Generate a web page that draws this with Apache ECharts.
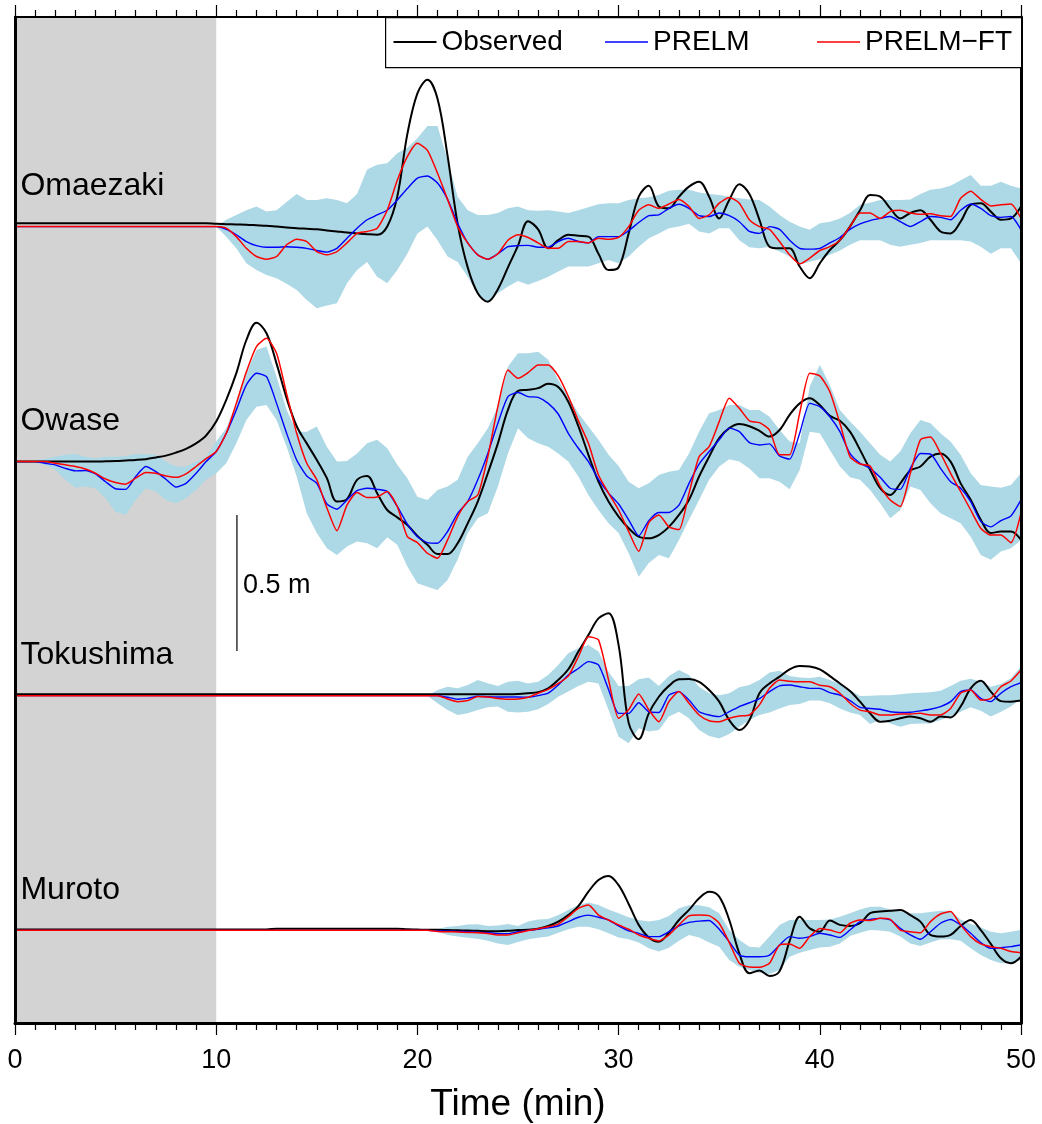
<!DOCTYPE html>
<html>
<head>
<meta charset="utf-8">
<script src="https://cdn.jsdelivr.net/npm/echarts@6/dist/echarts.min.js"></script>
<style>
html,body{margin:0;padding:0;background:#fff;}
#chart{width:1042px;height:1124px;}
</style>
</head>
<body>
<div id="chart"></div>
<script>
// ---------------- DATA (sea-level change in metres, sampled every 0.5 min) ----------------
const STATIONS = ['Omaezaki', 'Owase', 'Tokushima', 'Muroto'];
const TIME = [];
for (let i = 0; i <= 100; i++) TIME.push(i / 2);   // sampling grid 0..50 min
const X_TICKS = [0, 10, 20, 30, 40, 50];
const SCALE_BAR_M = 0.5;

// Omaezaki
const OMAEZAKI_OBS = [
0.012,0.012,0.012,0.012,0.012,0.012,0.012,0.012,0.012,0.012,
0.012,0.012,0.012,0.012,0.012,0.012,0.012,0.012,0.012,0.012,
0.010,0.009,0.008,0.007,0.005,0.003,0.000,-0.003,-0.006,-0.008,
-0.010,-0.014,-0.018,-0.022,-0.025,-0.028,-0.030,0.000,0.110,0.340,
0.490,0.540,0.470,0.260,0.010,-0.150,-0.245,-0.276,-0.230,-0.150,
-0.070,0.020,-0.010,-0.080,-0.050,-0.030,-0.034,-0.037,-0.100,-0.160,
-0.150,-0.025,0.110,0.150,0.074,0.067,0.110,0.147,0.165,0.110,
0.030,0.098,0.156,0.120,0.025,-0.074,-0.080,-0.080,-0.147,-0.190,
-0.135,-0.086,-0.050,0.000,0.060,0.116,0.110,0.067,0.030,0.050,
0.060,0.025,-0.018,-0.025,0.018,0.080,0.086,0.055,0.025,0.030,
0.074];
const OMAEZAKI_PRELM = [
0,0,0,0,0,0,0,0,0,0,
0,0,0,0,0,0,0,0,0,0,
0,-0.010,-0.030,-0.055,-0.070,-0.076,-0.076,-0.074,-0.076,-0.080,
-0.088,-0.094,-0.080,-0.043,-0.006,0.025,0.043,0.060,0.098,0.140,
0.178,0.186,0.160,0.100,0.012,-0.060,-0.104,-0.120,-0.100,-0.074,
-0.070,-0.069,-0.076,-0.076,-0.055,-0.043,-0.055,-0.060,-0.037,-0.037,
-0.037,-0.015,0.015,0.040,0.043,0.067,0.082,0.067,0.040,0.037,
0.050,0.040,0.018,-0.018,-0.025,0.000,-0.010,-0.050,-0.080,-0.083,
-0.080,-0.060,-0.040,-0.010,0.010,0.022,0.030,0.037,0.018,0.000,
0.018,0.037,0.034,0.025,0.060,0.083,0.067,0.040,0.034,0.037,
-0.012];
const OMAEZAKI_FT = [
0,0,0,0,0,0,0,0,0,0,
0,0,0,0,0,0,0,0,0,0,
0,-0.006,-0.037,-0.080,-0.110,-0.120,-0.110,-0.067,-0.047,-0.055,
-0.092,-0.104,-0.092,-0.060,-0.025,-0.018,-0.006,0.060,0.170,0.257,
0.306,0.280,0.196,0.100,0.000,-0.060,-0.104,-0.120,-0.100,-0.050,
-0.030,-0.040,-0.060,-0.080,-0.080,-0.055,-0.055,-0.060,-0.043,-0.047,
-0.040,0.000,0.060,0.080,0.067,0.083,0.100,0.074,0.030,0.043,
0.086,0.107,0.086,0.025,0.000,-0.010,-0.055,-0.104,-0.137,-0.116,
-0.088,-0.074,-0.050,0.000,0.050,0.050,0.030,0.055,0.060,0.050,
0.045,0.047,0.040,0.037,0.104,0.130,0.100,0.076,0.080,0.083,
0.030];
const OMAEZAKI_LO = [
0,0,0,0,0,0,0,0,0,0,
0,0,0,0,0,0,0,0,0,0,
0,-0.037,-0.080,-0.135,-0.160,-0.178,-0.190,-0.210,-0.233,-0.270,
-0.300,-0.290,-0.282,-0.208,-0.160,-0.130,-0.184,-0.208,-0.160,-0.100,
-0.025,0.000,-0.050,-0.110,-0.130,-0.184,-0.250,-0.276,-0.245,-0.220,
-0.200,-0.214,-0.200,-0.184,-0.165,-0.147,-0.147,-0.147,-0.135,-0.123,
-0.135,-0.110,-0.074,-0.043,-0.025,-0.006,0.000,0.010,-0.018,-0.025,
-0.006,-0.006,-0.050,-0.076,-0.080,-0.074,-0.092,-0.110,-0.140,-0.129,
-0.120,-0.104,-0.088,-0.067,-0.050,-0.050,-0.050,-0.067,-0.074,-0.067,
-0.060,-0.050,-0.050,-0.050,-0.050,-0.055,-0.074,-0.100,-0.080,-0.080,
-0.135];
const OMAEZAKI_HI = [
0,0,0,0,0,0,0,0,0,0,
0,0,0,0,0,0,0,0,0,0,
0,0.025,0.043,0.060,0.074,0.055,0.060,0.090,0.120,0.098,
0.098,0.104,0.098,0.086,0.120,0.210,0.227,0.233,0.270,0.290,
0.325,0.370,0.370,0.245,0.110,0.060,0.043,0.043,0.050,0.067,
0.074,0.060,0.058,0.060,0.055,0.050,0.060,0.071,0.082,0.086,
0.086,0.098,0.104,0.108,0.116,0.132,0.135,0.135,0.125,0.120,
0.116,0.110,0.104,0.100,0.098,0.074,0.043,0.018,0.000,-0.012,
0.012,0.018,0.030,0.050,0.080,0.088,0.098,0.098,0.098,0.100,
0.120,0.135,0.140,0.150,0.170,0.190,0.150,0.150,0.165,0.150,
0.140];

// Owase
const OWASE_OBS = [
0,0,0,0,0,0,0,0,0,0.001,
0.002,0.004,0.006,0.009,0.015,0.022,0.033,0.047,0.067,0.096,
0.147,0.227,0.325,0.447,0.510,0.472,0.360,0.233,0.130,0.067,
0.006,-0.061,-0.147,-0.138,-0.067,-0.053,-0.116,-0.178,-0.205,-0.233,
-0.273,-0.306,-0.340,-0.340,-0.300,-0.227,-0.147,-0.043,0.067,0.190,
0.260,0.264,0.270,0.286,0.274,0.220,0.130,0.025,-0.074,-0.147,
-0.202,-0.245,-0.276,-0.282,-0.270,-0.240,-0.196,-0.140,-0.055,0.018,
0.086,0.123,0.138,0.130,0.113,0.092,0.116,0.172,0.214,0.233,
0.208,0.168,0.150,0.110,0.043,-0.030,-0.098,-0.123,-0.080,-0.033,
-0.018,0.018,0.030,0.000,-0.080,-0.140,-0.214,-0.263,-0.257,-0.257,
-0.288];
const OWASE_PRELM = [
0,0,0,-0.006,-0.012,-0.025,-0.034,-0.033,-0.045,-0.074,
-0.100,-0.102,-0.055,-0.018,-0.037,-0.065,-0.094,-0.080,-0.043,0.000,
0.037,0.104,0.190,0.282,0.325,0.312,0.214,0.104,0.006,-0.053,
-0.080,-0.156,-0.175,-0.141,-0.107,-0.098,-0.102,-0.110,-0.165,-0.230,
-0.276,-0.298,-0.300,-0.257,-0.190,-0.147,-0.067,0.030,0.141,0.239,
0.254,0.239,0.236,0.214,0.175,0.104,0.049,0.000,-0.065,-0.116,
-0.156,-0.214,-0.273,-0.217,-0.187,-0.187,-0.160,-0.080,-0.009,0.037,
0.080,0.123,0.110,0.070,0.061,0.065,0.021,0.009,0.104,0.214,
0.202,0.165,0.110,0.030,-0.006,-0.025,-0.058,-0.098,-0.102,-0.025,
0.030,0.028,-0.025,-0.074,-0.098,-0.147,-0.220,-0.240,-0.217,-0.200,
-0.141];
const OWASE_FT = [
0,0,0,0,-0.006,-0.012,-0.018,-0.027,-0.043,-0.064,
-0.077,-0.083,-0.061,-0.040,-0.043,-0.053,-0.058,-0.045,-0.018,0.011,
0.037,0.104,0.214,0.330,0.423,0.453,0.398,0.250,0.104,-0.006,
-0.067,-0.170,-0.254,-0.160,-0.114,-0.132,-0.130,-0.110,-0.165,-0.276,
-0.298,-0.337,-0.355,-0.288,-0.202,-0.147,-0.123,0.018,0.202,0.337,
0.306,0.327,0.355,0.355,0.315,0.240,0.150,0.067,-0.049,-0.116,
-0.178,-0.257,-0.330,-0.224,-0.196,-0.240,-0.250,-0.116,0.018,0.055,
0.147,0.233,0.196,0.150,0.143,0.116,0.025,0.025,0.178,0.325,
0.315,0.257,0.141,0.018,-0.009,-0.016,-0.090,-0.141,-0.165,-0.043,
0.080,0.090,0.030,-0.043,-0.110,-0.178,-0.245,-0.270,-0.270,-0.298,
-0.190];
const OWASE_LO = [
0,0,-0.006,-0.012,-0.030,-0.067,-0.096,-0.092,-0.098,-0.135,
-0.184,-0.196,-0.141,-0.098,-0.110,-0.141,-0.153,-0.135,-0.104,-0.067,
-0.043,-0.006,0.067,0.153,0.202,0.208,0.153,0.055,-0.055,-0.190,
-0.263,-0.319,-0.343,-0.312,-0.294,-0.300,-0.319,-0.278,-0.306,-0.386,
-0.447,-0.460,-0.472,-0.435,-0.360,-0.263,-0.208,-0.190,-0.092,0.030,
0.123,0.086,0.067,0.055,0.030,0.000,-0.055,-0.123,-0.178,-0.227,
-0.263,-0.337,-0.423,-0.373,-0.343,-0.355,-0.288,-0.214,-0.141,-0.067,
-0.018,0.009,0.000,-0.025,-0.061,-0.061,-0.074,-0.102,-0.031,0.110,
0.104,0.043,-0.018,-0.058,-0.067,-0.104,-0.153,-0.208,-0.178,-0.092,
-0.104,-0.153,-0.190,-0.208,-0.227,-0.276,-0.343,-0.361,-0.331,-0.319,
-0.288];
const OWASE_HI = [
0,0,0.006,0.010,0.018,0.025,0.028,0.018,0.012,0.018,
0.018,0.021,0.028,0.028,0.025,0.000,-0.018,-0.018,0.000,0.018,
0.074,0.123,0.214,0.325,0.410,0.423,0.312,0.190,0.110,0.110,
0.129,0.055,0.000,0.002,0.030,0.067,0.080,0.049,-0.012,-0.061,
-0.129,-0.141,-0.104,-0.092,-0.067,0.018,0.067,0.123,0.202,0.350,
0.398,0.398,0.404,0.374,0.300,0.240,0.178,0.129,0.080,0.025,
-0.016,-0.074,-0.098,-0.080,-0.049,-0.037,-0.031,0.030,0.110,0.178,
0.190,0.208,0.208,0.190,0.190,0.165,0.116,0.074,0.067,0.276,
0.355,0.282,0.190,0.147,0.110,0.067,0.025,0.000,0.037,0.104,
0.153,0.141,0.104,0.074,0.025,-0.043,-0.086,-0.092,-0.096,-0.086,
-0.043];

// Tokushima
const TOKUSHIMA_OBS = [
0.005,0.005,0.005,0.005,0.005,0.005,0.005,0.005,0.005,0.005,
0.005,0.005,0.005,0.005,0.005,0.005,0.005,0.005,0.005,0.005,
0.005,0.005,0.005,0.005,0.005,0.005,0.005,0.005,0.005,0.005,
0.005,0.005,0.005,0.005,0.005,0.005,0.005,0.005,0.005,0.005,
0.005,0.005,0.005,0.005,0.005,0.005,0.005,0.005,0.005,0.005,
0.006,0.009,0.013,0.027,0.058,0.097,0.162,0.223,0.284,0.303,
0.186,-0.100,-0.160,-0.065,-0.004,0.036,0.060,0.061,0.051,0.021,
-0.022,-0.090,-0.126,-0.090,0.009,0.045,0.070,0.097,0.109,0.107,
0.097,0.072,0.045,0.017,-0.022,-0.065,-0.096,-0.092,-0.083,-0.077,
-0.083,-0.096,-0.077,-0.080,-0.040,0.027,0.055,0.015,-0.020,-0.022,
-0.018];
const TOKUSHIMA_PRELM = [
0,0,0,0,0,0,0,0,0,0,
0,0,0,0,0,0,0,0,0,0,
0,0,0,0,0,0,0,0,0,0,
0,0,0,0,0,0,0,0,0,0,
0,0,0,-0.006,-0.013,-0.010,-0.002,-0.004,-0.005,-0.005,
-0.005,-0.006,0.000,0.009,0.039,0.076,0.100,0.125,0.113,0.023,
-0.065,-0.065,-0.026,-0.059,-0.062,0.002,0.015,-0.016,-0.059,-0.071,
-0.077,-0.059,-0.040,-0.026,-0.011,0.015,0.036,0.039,0.033,0.027,
0.027,0.011,0.002,-0.018,-0.043,-0.047,-0.050,-0.059,-0.062,-0.061,
-0.056,-0.050,-0.040,-0.022,0.015,0.021,-0.010,-0.022,0.009,0.033,
0.048];
const TOKUSHIMA_FT = [
0,0,0,0,0,0,0,0,0,0,
0,0,0,0,0,0,0,0,0,0,
0,0,0,0,0,0,0,0,0,0,
0,0,0,0,0,0,0,0,0,0,
0,0,0,-0.012,-0.022,-0.018,-0.003,-0.005,-0.010,-0.013,
-0.012,-0.006,0.009,0.023,0.045,0.072,0.143,0.217,0.205,0.058,
-0.083,-0.052,0.006,-0.052,-0.096,-0.022,0.015,-0.028,-0.071,-0.092,
-0.096,-0.083,-0.075,-0.071,-0.034,0.027,0.058,0.053,0.051,0.051,
0.038,0.033,0.009,-0.028,-0.053,-0.059,-0.071,-0.071,-0.067,-0.067,
-0.065,-0.071,-0.071,-0.047,0.009,0.021,-0.016,-0.010,0.033,0.054,
0.094];
const TOKUSHIMA_LO = [
0,0,0,0,0,0,0,0,0,0,
0,0,0,0,0,0,0,0,0,0,
0,0,0,0,0,0,0,0,0,0,
0,0,0,0,0,0,0,0,0,0,
0,0,-0.028,-0.053,-0.071,-0.065,-0.053,-0.043,-0.040,-0.059,
-0.062,-0.059,-0.050,-0.031,-0.004,0.015,0.036,0.051,0.045,-0.053,
-0.151,-0.175,-0.120,-0.132,-0.126,-0.077,-0.059,-0.083,-0.126,-0.148,
-0.157,-0.141,-0.114,-0.089,-0.071,-0.062,-0.047,-0.034,-0.031,-0.018,
-0.018,-0.028,-0.047,-0.062,-0.071,-0.104,-0.089,-0.102,-0.114,-0.104,
-0.102,-0.102,-0.089,-0.077,-0.059,-0.043,-0.055,-0.077,-0.059,-0.040,
-0.010];
const TOKUSHIMA_HI = [
0,0,0,0,0,0,0,0,0,0,
0,0,0,0,0,0,0,0,0,0,
0,0,0,0,0,0,0,0,0,0,
0,0,0,0,0,0,0,0,0,0,
0,0,0.021,0.033,0.027,0.039,0.058,0.046,0.036,0.051,
0.055,0.045,0.051,0.076,0.113,0.156,0.174,0.186,0.162,0.088,
0.036,0.036,0.060,0.067,0.036,0.072,0.094,0.076,0.033,0.009,
0.002,0.009,0.031,0.039,0.058,0.085,0.092,0.072,0.067,0.065,
0.070,0.058,0.043,0.021,-0.001,0.000,0.002,0.002,0.005,0.009,
0.011,0.013,0.018,0.036,0.055,0.062,0.051,0.033,0.043,0.064,
0.107];

// Muroto
const MUROTO_OBS = [
0.003,0.003,0.003,0.003,0.003,0.003,0.003,0.003,0.003,0.003,
0.003,0.003,0.003,0.003,0.003,0.003,0.003,0.003,0.003,0.003,
0.003,0.003,0.003,0.003,0.003,0.003,0.006,0.006,0.006,0.006,
0.006,0.006,0.006,0.006,0.006,0.006,0.006,0.006,0.006,0.004,
0.003,0.002,0.002,0.001,0.000,-0.001,-0.002,-0.003,-0.003,-0.002,
0.001,0.002,0.006,0.016,0.032,0.056,0.089,0.142,0.185,0.200,
0.166,0.097,0.020,-0.026,-0.042,-0.009,0.038,0.075,0.118,0.142,
0.124,0.038,-0.085,-0.158,-0.148,-0.168,-0.150,-0.040,0.050,0.007,
-0.005,0.036,0.020,0.016,0.026,0.063,0.069,0.072,0.075,0.056,
0.032,-0.017,-0.023,-0.017,0.016,0.038,0.001,-0.050,-0.103,-0.121,
-0.097];
const MUROTO_PRELM = [
0,0,0,0,0,0,0,0,0,0,
0,0,0,0,0,0,0,0,0,0,
0,0,0,0,0,0,0,0,0,0,
0,0,0,0,0,0,0,0,0,0,
0,0,-0.002,-0.003,-0.004,-0.005,-0.007,-0.009,-0.012,-0.012,
-0.005,0.000,0.004,0.009,0.016,0.032,0.048,0.056,0.048,0.038,
0.016,-0.002,-0.011,-0.023,-0.023,-0.005,0.016,0.029,0.034,0.036,
0.004,-0.042,-0.091,-0.097,-0.097,-0.091,-0.054,-0.023,-0.029,-0.023,
-0.011,-0.017,-0.026,0.001,0.032,0.040,0.044,0.038,0.007,-0.017,
-0.033,-0.005,0.026,0.040,0.020,-0.011,-0.045,-0.066,-0.064,-0.060,
-0.054];
const MUROTO_FT = [
0,0,0,0,0,0,0,0,0,0,
0,0,0,0,0,0,0,0,0,0,
0,0,0,0,0,0,0,0,0,0,
0,0,0,0,0,0,0,0,0,0,
0,0,-0.004,-0.005,-0.006,-0.008,-0.009,-0.012,-0.017,-0.017,
-0.009,-0.001,0.006,0.013,0.023,0.050,0.081,0.093,0.056,0.038,
0.020,0.004,-0.017,-0.029,-0.039,-0.017,0.020,0.053,0.056,0.054,
0.026,-0.045,-0.121,-0.135,-0.136,-0.121,-0.054,-0.050,-0.066,-0.023,
0.007,0.001,-0.009,0.026,0.038,0.036,0.044,0.040,0.001,-0.005,
-0.009,0.032,0.060,0.069,0.020,-0.023,-0.050,-0.060,-0.066,-0.078,
-0.082];
const MUROTO_LO = [
0,0,0,0,0,0,0,0,0,0,
0,0,0,0,0,0,0,0,0,0,
0,0,0,0,0,0,0,0,0,0,
0,0,0,0,0,0,0,0,0,0,
0,0,-0.005,-0.017,-0.023,-0.027,-0.031,-0.038,-0.048,-0.054,
-0.043,-0.033,-0.027,-0.023,-0.009,0.004,0.013,0.013,0.004,-0.011,
-0.026,-0.033,-0.045,-0.066,-0.078,-0.064,-0.038,-0.017,-0.026,-0.045,
-0.060,-0.109,-0.134,-0.146,-0.156,-0.161,-0.146,-0.097,-0.082,-0.072,
-0.063,-0.060,-0.048,-0.021,-0.009,0.001,-0.001,-0.005,-0.023,-0.048,
-0.058,-0.045,-0.033,-0.033,-0.038,-0.066,-0.091,-0.109,-0.121,-0.121,
-0.109];
const MUROTO_HI = [
0,0,0,0,0,0,0,0,0,0,
0,0,0,0,0,0,0,0,0,0,
0,0,0,0,0,0,0,0,0,0,
0,0,0,0,0,0,0,0,0,0,
0,0,0.005,0.013,0.016,0.021,0.022,0.016,0.018,0.023,
0.016,0.032,0.040,0.042,0.056,0.075,0.093,0.102,0.093,0.077,
0.063,0.048,0.038,0.032,0.038,0.053,0.081,0.092,0.092,0.085,
0.063,0.001,-0.036,-0.060,-0.063,-0.023,0.020,0.038,0.040,0.038,
0.038,0.040,0.050,0.063,0.077,0.087,0.087,0.077,0.069,0.063,
0.063,0.067,0.072,0.072,0.040,0.023,0.011,-0.005,-0.011,-0.005,
0.001];

// ---------------- LAYOUT (record-section placement, in metres on the plot) ----------------
const Y_MAX = 3.6985;                       // plot height in metres
const BASELINES = [2.928, 2.064, 1.2034, 0.3407];
const LABEL_RISE = 0.149;
const LABEL_X = 0.27;
const SCALE_BAR_X = 11.03;
const SCALE_BAR_Y0 = 1.368;

const RECORDS = [
  {obs: OMAEZAKI_OBS, prelm: OMAEZAKI_PRELM, ft: OMAEZAKI_FT, lo: OMAEZAKI_LO, hi: OMAEZAKI_HI},
  {obs: OWASE_OBS, prelm: OWASE_PRELM, ft: OWASE_FT, lo: OWASE_LO, hi: OWASE_HI},
  {obs: TOKUSHIMA_OBS, prelm: TOKUSHIMA_PRELM, ft: TOKUSHIMA_FT, lo: TOKUSHIMA_LO, hi: TOKUSHIMA_HI},
  {obs: MUROTO_OBS, prelm: MUROTO_PRELM, ft: MUROTO_FT, lo: MUROTO_LO, hi: MUROTO_HI}
];

const problems = [];
RECORDS.forEach((r, k) => Object.keys(r).forEach(key => {
  if (r[key].length !== TIME.length) problems.push(STATIONS[k] + ' ' + key + ' len ' + r[key].length);
}));

const FONT = "'Liberation Sans', Arial, Helvetica, sans-serif";
const NAME_OBS = 'Observed', NAME_PRELM = 'PRELM', NAME_FT = 'PRELM\u2212FT';

const series = [];

// grey pre-window shading (0-10 min)
series.push({
  type: 'line', name: 'shade', data: [], silent: true, z: 1,
  markArea: {silent: true, z: 1, itemStyle: {color: '#d3d3d3', borderWidth: 0},
             data: [[{xAxis: 0}, {xAxis: 10}]]}
});

RECORDS.forEach((r, k) => {
  const b = BASELINES[k];
  series.push({
    type: 'custom', name: STATIONS[k] + ' band', silent: true, z: 2,
    coordinateSystem: 'cartesian2d',
    data: TIME.map((t, i) => [t, b + r.lo[i], b + r.hi[i]]),
    encode: {x: 0, y: [1, 2]},
    renderItem: function (params, api) {
      if (params.dataIndex !== 0) return null;
      const pts = [];
      for (let i = 0; i < TIME.length; i++) pts.push(api.coord([TIME[i], b + r.hi[i]]));
      for (let i = TIME.length - 1; i >= 0; i--) pts.push(api.coord([TIME[i], b + r.lo[i]]));
      return {type: 'polygon', shape: {points: pts}, style: {fill: '#add8e6', stroke: null}};
    }
  });
  series.push({
    type: 'line', name: NAME_OBS, data: TIME.map((t, i) => [t, b + r.obs[i]]),
    symbol: 'none', smooth: 0.35, lineStyle: {color: '#000', width: 2}, itemStyle: {color: '#000'}, z: 3
  });
  series.push({
    type: 'line', name: NAME_PRELM, data: TIME.map((t, i) => [t, b + r.prelm[i]]),
    symbol: 'none', smooth: 0.2, lineStyle: {color: '#0000ff', width: 1.4}, itemStyle: {color: '#0000ff'}, z: 4
  });
  series.push({
    type: 'line', name: NAME_FT, data: TIME.map((t, i) => [t, b + r.ft[i]]),
    symbol: 'none', smooth: 0.2, lineStyle: {color: '#ff0000', width: 1.5}, itemStyle: {color: '#ff0000'}, z: 5
  });
});

// station names
series.push({
  type: 'scatter', name: 'labels', symbolSize: 0, silent: true, z: 6,
  itemStyle: {opacity: 1},
  data: STATIONS.map((s, k) => ({value: [LABEL_X, BASELINES[k] + LABEL_RISE], name: s})),
  label: {show: true, position: 'right', distance: 0, formatter: p => p.name,
          fontSize: 32, color: '#000', opacity: 1, fontFamily: FONT}
});
// scale bar
series.push({
  type: 'line', name: 'scale', silent: true, symbol: 'none', z: 6,
  data: [[SCALE_BAR_X, SCALE_BAR_Y0], [SCALE_BAR_X, SCALE_BAR_Y0 + SCALE_BAR_M]],
  lineStyle: {color: '#333', width: 1.5}
});
series.push({
  type: 'scatter', name: 'scale label', silent: true, symbolSize: 0, z: 6,
  itemStyle: {opacity: 1},
  data: [[SCALE_BAR_X, SCALE_BAR_Y0 + SCALE_BAR_M / 2]],
  label: {show: true, position: 'right', distance: 6, offset: [0, 3], formatter: SCALE_BAR_M + ' m',
          fontSize: 27, color: '#000', opacity: 1, fontFamily: FONT}
});

const tickCommon = {
  axisTick: {show: true, inside: false, length: 12, lineStyle: {color: '#000', width: 1.2}},
  minorTick: {show: true, splitNumber: 10, length: 7, lineStyle: {color: '#000', width: 1.2}},
  splitLine: {show: false}, minorSplitLine: {show: false}
};

function legendEntry(name, left, thickness) {
  return {
    left: left, top: 28, padding: 0, itemGap: 0, itemWidth: 43, itemHeight: thickness,
    icon: 'rect', selectedMode: false, z: 20,
    textStyle: {fontSize: 28, color: '#000', fontFamily: FONT},
    data: [name]
  };
}

const option = {
  animation: false,
  backgroundColor: '#fff',
  textStyle: {fontFamily: FONT},
  title: problems.length ? {text: problems.join('; '), textStyle: {fontSize: 12, color: 'red'}, top: 80, left: 300} : undefined,
  grid: {left: 15, right: 21, top: 17, bottom: 101, containLabel: false, outerBoundsMode: 'none'},
  graphic: {
    elements: [{
      type: 'rect', left: 385, top: 17, z: 15,
      shape: {width: 636, height: 50},
      style: {fill: '#fff', stroke: '#000', lineWidth: 1.2}
    }]
  },
  legend: [
    legendEntry(NAME_OBS, 393.5, 2),
    legendEntry(NAME_PRELM, 605, 1.5),
    legendEntry(NAME_FT, 817, 1.5)
  ],
  xAxis: [
    Object.assign({
      type: 'value', min: X_TICKS[0], max: X_TICKS[X_TICKS.length - 1], interval: 10, position: 'bottom',
      axisLine: {show: true, onZero: false, lineStyle: {color: '#000', width: 3}},
      axisLabel: {show: true, fontSize: 27, color: '#000', margin: 24, fontFamily: FONT},
      name: 'Time (min)', nameLocation: 'middle', nameGap: 63,
      nameTextStyle: {fontSize: 37, color: '#000', fontFamily: FONT},
      z: 10
    }, tickCommon),
    Object.assign({
      type: 'value', min: X_TICKS[0], max: X_TICKS[X_TICKS.length - 1], interval: 10, position: 'top',
      axisLine: {show: true, onZero: false, lineStyle: {color: '#000', width: 2}},
      axisLabel: {show: false}, z: 10
    }, tickCommon)
  ],
  yAxis: [
    {type: 'value', min: 0, max: Y_MAX, position: 'left',
     axisLine: {show: true, onZero: false, lineStyle: {color: '#000', width: 3}},
     axisTick: {show: false}, axisLabel: {show: false}, splitLine: {show: false}, z: 10},
    {type: 'value', min: 0, max: Y_MAX, position: 'right',
     axisLine: {show: true, onZero: false, lineStyle: {color: '#000', width: 3}},
     axisTick: {show: false}, axisLabel: {show: false}, splitLine: {show: false}, z: 10}
  ],
  series: series
};

const chart = echarts.init(document.getElementById('chart'), null, {renderer: 'canvas'});
chart.setOption(option);
</script>
</body>
</html>
